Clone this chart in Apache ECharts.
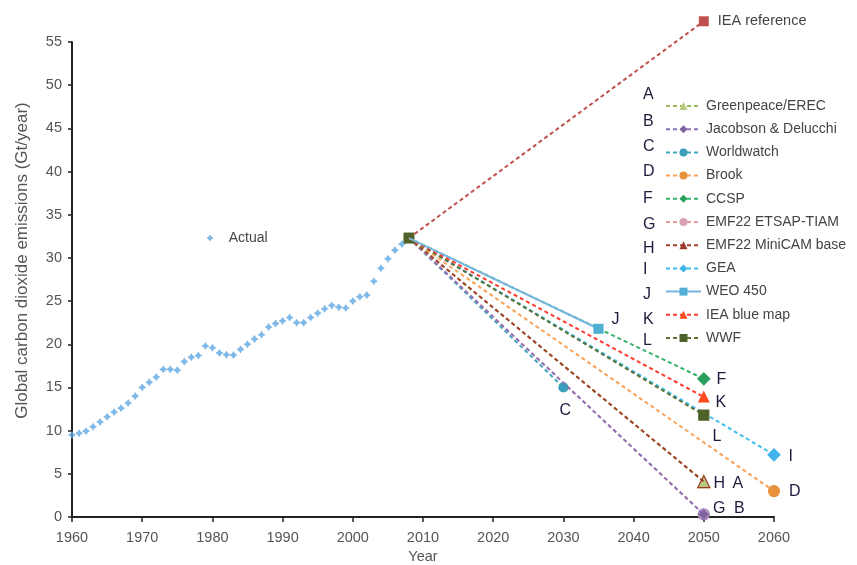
<!DOCTYPE html>
<html>
<head>
<meta charset="utf-8">
<script src="https://cdn.jsdelivr.net/npm/echarts@6/dist/echarts.min.js"></script>
<style>
html,body{margin:0;padding:0;background:#fff;}
#chart{width:857px;height:565px;}
</style>
</head>
<body>
<div id="chart"></div>
<script>
// ---- Data ----
const actualYears = [1960,1961,1962,1963,1964,1965,1966,1967,1968,1969,
  1970,1971,1972,1973,1974,1975,1976,1977,1978,1979,
  1980,1981,1982,1983,1984,1985,1986,1987,1988,1989,
  1990,1991,1992,1993,1994,1995,1996,1997,1998,1999,
  2000,2001,2002,2003,2004,2005,2006,2007];
const actualValues = [9.5,9.7,9.95,10.45,11.0,11.6,12.15,12.6,13.2,14.0,
  15.0,15.6,16.2,17.1,17.1,17.0,18.0,18.5,18.7,19.8,
  19.6,19.0,18.8,18.75,19.4,20.0,20.6,21.1,22.0,22.4,
  22.7,23.1,22.5,22.5,23.1,23.6,24.1,24.5,24.3,24.2,
  25.0,25.5,25.7,27.3,28.8,29.9,30.9,31.6];
const baseYear = 2008;
const baseValue = 32.3;

const scenarioNames   = ['Greenpeace/EREC','Jacobson & Delucchi','Worldwatch','Brook','CCSP','EMF22 ETSAP-TIAM','EMF22 MiniCAM base','GEA','WEO 450','IEA blue map','WWF'];
const scenarioLetters = ['A','B','C','D','F','G','H','I','J','K','L'];
const scenarioEndYears  = [2050,2050,2030,2060,2050,2050,2050,2060,2035,2050,2050];
const scenarioEndValues = [4.1,0.3,15.0,3.0,16.0,0.3,4.1,7.2,21.8,13.9,11.8];

const referenceName = 'IEA reference';
const referenceEndYear = 2050;
const referenceEndValue = 57.4;

const yTicks = [0,5,10,15,20,25,30,35,40,45,50,55];
const xTicks = [1960,1970,1980,1990,2000,2010,2020,2030,2040,2050,2060];

// ---- Styles ----
const FONT = 'Liberation Sans, Arial, sans-serif';
const styles = {
  'Greenpeace/EREC':    {color:'#9bbb59', symbol:'triangle', size:12, fill:'#b5c97f', border:'#b5c97f', type:[4,3], z:7},
  'Jacobson & Delucchi':{color:'#8c72b8', symbol:'diamond', size:9, fill:'#8064a2', border:'#8064a2', type:[4,3], z:6},
  'Worldwatch':         {color:'#3ea6bf', symbol:'circle', size:9, fill:'#3a9fb8', border:'#3a9fb8', type:[4,3], z:5},
  'Brook':              {color:'#f9a35a', symbol:'circle', size:11, fill:'#e8923c', border:'#e8923c', type:[4,3], z:4},
  'CCSP':               {color:'#33b36b', symbol:'diamond', size:12, fill:'#2a9f5c', border:'#2a9f5c', type:[4,3], z:3},
  'EMF22 ETSAP-TIAM':   {color:'#ea9a9a', symbol:'circle', size:11, fill:'#d9a3b5', border:'#9a80c0', type:[4,3], z:5},
  'EMF22 MiniCAM base': {color:'#a6402e', symbol:'triangle', size:12, fill:'rgba(0,0,0,0)', border:'#a0392b', type:[4,3], z:8},
  'GEA':                {color:'#3cc0f0', symbol:'diamond', size:12, fill:'#42b4ec', border:'#42b4ec', type:[4,3], z:2},
  'WEO 450':            {color:'#78b6e0', symbol:'rect', size:9, fill:'#4fb0d3', border:'#4fb0d3', type:'solid', z:12},
  'IEA blue map':       {color:'#ff3a2e', symbol:'triangle', size:10, fill:'#ff4a1e', border:'#ff4a1e', type:[4,3], z:11},
  'WWF':                {color:'#5a7030', symbol:'rect', size:10, fill:'#4f6228', border:'#4f6228', type:[4,3], z:10}
};
const legendFill = {
  'EMF22 MiniCAM base': '#a0392b'
};

const labelPlacement = {
  'A': {position:'right', offset:[16,2]},
  'B': {position:'right', offset:[19,-6]},
  'C': {position:'bottom', offset:[2,4]},
  'D': {position:'right', offset:[3,1]},
  'F': {position:'right', offset:[0,1]},
  'G': {position:'right', offset:[-3,-6]},
  'H': {position:'right', offset:[-3,2]},
  'I': {position:'right', offset:[2,2]},
  'J': {position:'right', offset:[2,-9]},
  'K': {position:'right', offset:[0,6]},
  'L': {position:'right', offset:[-3,22]}
};
const letterColor = '#1e1a3c';

const series = [];

// Actual
series.push({
  name: 'Actual',
  type: 'scatter',
  data: actualYears.map((y,i)=>[y, actualValues[i]]),
  symbol: 'path://M0,-10 L4,-4 L10,0 L4,4 L0,10 L-4,4 L-10,0 L-4,-4 Z',
  symbolSize: 8,
  itemStyle: {color:'#5ea8e4'},
  z: 3
});

// IEA reference
series.push({
  name: referenceName,
  type: 'line',
  clip: false,
  data: [
    {value:[baseYear, baseValue], symbol:'none'},
    {value:[referenceEndYear, referenceEndValue], symbolSize:10,
     label:{show:true, position:'right', distance:9, formatter:referenceName, fontSize:14.5, color:'#444', fontFamily:FONT}}
  ],
  symbol: 'rect',
  lineStyle: {color:'#c0504d', width:2, type:[4,3]},
  itemStyle: {color:'#c0504d'},
  z: 2
});

scenarioNames.forEach((name, i) => {
  const s = styles[name];
  const letter = scenarioLetters[i];
  const lp = labelPlacement[letter];
  const startItem = (name === 'WWF')
    ? {value:[baseYear, baseValue], symbol:'rect', symbolSize:10, itemStyle:{color:'#4f6228', borderColor:'#4f6228'}}
    : {value:[baseYear, baseValue], symbol:'none'};
  const lf = legendFill[name] || s.fill;
  series.push({
    name: name,
    type: 'line',
    clip: false,
    symbol: s.symbol,
    symbolSize: 7,
    showAllSymbol: true,
    data: [
      startItem,
      {value:[scenarioEndYears[i], scenarioEndValues[i]], symbolSize: s.size,
       itemStyle:{color:s.fill, borderColor:s.border, borderWidth:1.2},
       label:{show:true, formatter:letter, position:lp.position, offset:lp.offset, distance:6,
              fontSize:16, color:letterColor, fontFamily:FONT}}
    ],
    lineStyle: {color:s.color, width:2, type:s.type},
    itemStyle: {color:lf, borderColor:lf},
    emphasis: {disabled:true},
    z: s.z
  });
});

// legend letters (text annotations)
const legendLetterY = [93,120,145,170,197,223,247,268,293,318,339];
const graphics = scenarioLetters.map((L,i)=>({
  type:'text', left: 643, top: legendLetterY[i]-6,
  style:{text:L, font:'16px "Liberation Sans", Arial, sans-serif', fill:letterColor}
}));

const chart = echarts.init(document.getElementById('chart'), null, {renderer:'canvas'});
chart.setOption({
  animation: false,
  backgroundColor: '#fff',
  textStyle: {fontFamily:FONT},
  grid: {left:72, right:83, top:42, bottom:48, containLabel:false, outerBoundsMode:'none'},
  xAxis: {
    type:'value', min:xTicks[0], max:xTicks[xTicks.length-1], interval:10,
    name:'Year', nameLocation:'middle', nameGap:29,
    nameTextStyle:{fontSize:14.5, color:'#555'},
    axisLine:{show:true, onZero:false, lineStyle:{color:'#222', width:2}},
    axisTick:{show:true, length:5, lineStyle:{color:'#222', width:1.5}},
    axisLabel:{fontSize:14.5, color:'#555', margin:13, formatter: v => String(v)},
    splitLine:{show:false}
  },
  yAxis: {
    type:'value', min:yTicks[0], max:yTicks[yTicks.length-1], interval:5,
    name:'Global carbon dioxide emissions (Gt/year)', nameLocation:'middle', nameGap:41,
    nameTextStyle:{fontSize:17, color:'#555', padding:[0,0,0,38]},
    axisLine:{show:true, lineStyle:{color:'#222', width:2}},
    axisTick:{show:true, length:4, lineStyle:{color:'#222', width:1.5}},
    axisLabel:{fontSize:14.5, color:'#555', margin:10},
    splitLine:{show:false}
  },
  legend: [
    {
      data: scenarioNames,
      orient:'vertical', left:665, top:99, padding:0,
      itemWidth:35, itemHeight:10, itemGap:9.2,
      textStyle:{fontSize:14, color:'#444'},
      selectedMode:false
    },
    {
      data: ['Actual'],
      left:206.5, top:231, padding:0, itemWidth:27.5, itemHeight:7,
      textStyle:{fontSize:14, color:'#444'},
      selectedMode:false
    }
  ],
  graphic: graphics,
  series: series
});
</script>
</body>
</html>
